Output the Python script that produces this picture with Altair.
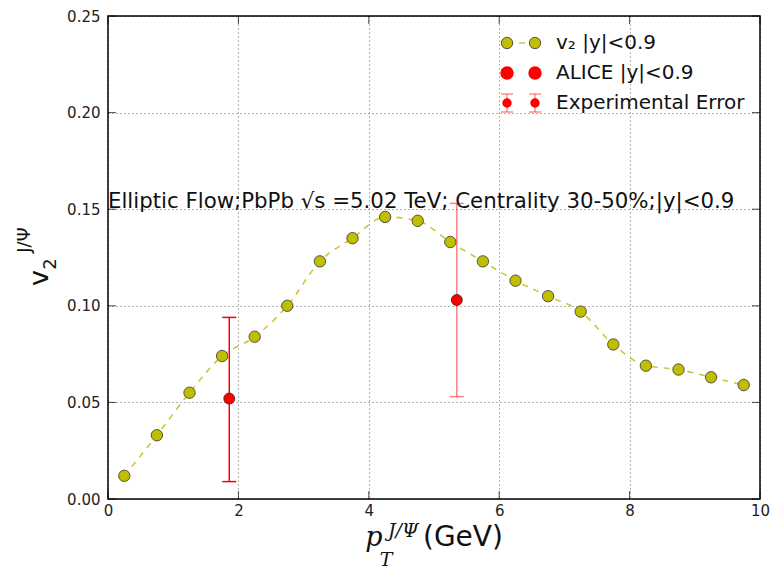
import altair as alt
import pandas as pd

# ---- data ----
pt = [0.25, 0.75, 1.25, 1.75, 2.25, 2.75, 3.25, 3.75, 4.25, 4.75,
      5.25, 5.75, 6.25, 6.75, 7.25, 7.75, 8.25, 8.75, 9.25, 9.75]
v2 = [0.012, 0.033, 0.055, 0.074, 0.084, 0.100, 0.123, 0.135, 0.146, 0.144,
      0.133, 0.123, 0.113, 0.105, 0.097, 0.080, 0.069, 0.067, 0.063, 0.059]
alice_pt = [1.86, 5.35]
alice_v2 = [0.052, 0.103]
alice_lo = [0.009, 0.053]
alice_hi = [0.094, 0.153]
x_ticks = [0, 2, 4, 6, 8, 10]
y_ticks = [0.00, 0.05, 0.10, 0.15, 0.20, 0.25]
legend_labels = ["v\u2082  |y|<0.9", "ALICE |y|<0.9", "Experimental Error"]
annotation = "Elliptic Flow;PbPb \u221as =5.02 TeV; Centrality 30-50%;|y|<0.9"

model = pd.DataFrame({"pt": pt, "v2": v2})
alice = pd.DataFrame({"pt": alice_pt, "v2": alice_v2, "lo": alice_lo, "hi": alice_hi})
note = pd.DataFrame({"pt": [0.0], "v2": [0.15], "label": [annotation]})
xt = pd.DataFrame({"pt": x_ticks})
yt = pd.DataFrame({"v2": y_ticks})
one = pd.DataFrame({"k": [0]})

FONT = "DejaVu Sans"
YEL = "#bfbf00"
xs = alt.Scale(domain=[0, 10], nice=False, zero=False)
ys = alt.Scale(domain=[0, 0.25], nice=False, zero=False)

x_axis = alt.Axis(values=x_ticks, format="d", title=None, grid=True, ticks=False,
                  labelPadding=4, labelFontSize=15, labelFont=FONT, labelColor="#222",
                  domain=False, gridColor="#000", gridDash=[1, 3], gridOpacity=0.6,
                  labelFlush=False)
y_axis = alt.Axis(values=y_ticks, format=".2f", title=None, grid=True, ticks=False,
                  labelPadding=8, labelFontSize=15, labelFont=FONT, labelColor="#222",
                  domain=False, gridColor="#000", gridDash=[1, 3], gridOpacity=0.6,
                  labelFlush=False)

def X(f):
    return alt.X(f, scale=xs, axis=x_axis)

def Y(f):
    return alt.Y(f, scale=ys, axis=y_axis)

line = alt.Chart(model).mark_line(
    color="#c8c83a", strokeWidth=1.6, strokeDash=[6, 6], interpolate="monotone"
).encode(x=X("pt:Q"), y=Y("v2:Q"))

pts = alt.Chart(model).mark_point(
    filled=True, fill=YEL, stroke="#333", strokeWidth=0.8, size=130, opacity=1
).encode(x=X("pt:Q"), y=Y("v2:Q"))

err_op = alt.condition("datum.pt > 4", alt.value(0.5), alt.value(1.0))
err = alt.Chart(alice).mark_rule(color="#ff0000", strokeWidth=1.5).encode(
    x=X("pt:Q"), y=Y("lo:Q"), y2="hi:Q", opacity=err_op)
cap_lo = alt.Chart(alice).mark_tick(color="#ff0000", orient="horizontal", size=14, thickness=1.5).encode(
    x=X("pt:Q"), y=Y("lo:Q"), opacity=err_op)
cap_hi = alt.Chart(alice).mark_tick(color="#ff0000", orient="horizontal", size=14, thickness=1.5).encode(
    x=X("pt:Q"), y=Y("hi:Q"), opacity=err_op)
alice_pts = alt.Chart(alice).mark_point(
    filled=True, fill="#ff0000", stroke="#222", strokeWidth=0.8, size=120, opacity=1
).encode(x=X("pt:Q"), y=Y("v2:Q"))

note_txt = alt.Chart(note).mark_text(
    align="left", baseline="alphabetic", fontSize=21.3, font=FONT, color="#111", dy=-1
).encode(x=X("pt:Q"), y=Y("v2:Q"), text="label:N")

# inward ticks on all four sides (matplotlib classic look)
tk = dict(color="#000", size=8, thickness=1)
ticks = [
    alt.Chart(xt).mark_tick(orient="vertical", yOffset=-4, **tk).encode(x=X("pt:Q"), y=alt.value(483)),
    alt.Chart(xt).mark_tick(orient="vertical", yOffset=4, **tk).encode(x=X("pt:Q"), y=alt.value(0)),
    alt.Chart(yt).mark_tick(orient="horizontal", xOffset=4, **tk).encode(y=Y("v2:Q"), x=alt.value(0)),
    alt.Chart(yt).mark_tick(orient="horizontal", xOffset=-4, **tk).encode(y=Y("v2:Q"), x=alt.value(652)),
]

# ---- hand-built legend (pixel positions inside the plot area) ----
lx1, lx2, ltx = 399, 427, 448
ly = [27, 57, 87]

def lg_text(label, y):
    return alt.Chart(one).mark_text(align="left", baseline="middle", fontSize=20,
                                    font=FONT, color="#111").encode(
        x=alt.value(ltx), y=alt.value(y), text=alt.value(label))

leg = []
leg.append(alt.Chart(one).mark_rule(color="#c8c83a", strokeWidth=1.6, strokeDash=[6, 6]).encode(
    x=alt.value(lx1), x2=alt.value(lx2), y=alt.value(ly[0])))
for xx in (lx1, lx2):
    leg.append(alt.Chart(one).mark_point(filled=True, fill=YEL, stroke="#333", strokeWidth=0.8,
                                         size=130, opacity=1).encode(
        x=alt.value(xx), y=alt.value(ly[0])))
    leg.append(alt.Chart(one).mark_point(filled=True, fill="#ff0000", stroke="#ff0000",
                                         size=130, opacity=1).encode(
        x=alt.value(xx), y=alt.value(ly[1])))
    leg.append(alt.Chart(one).mark_rule(color="#ff0000", strokeWidth=1.2, opacity=0.55).encode(
        x=alt.value(xx), y=alt.value(ly[2] - 9), y2=alt.value(ly[2] + 9)))
    leg.append(alt.Chart(one).mark_rule(color="#ff0000", strokeWidth=1.2, opacity=0.55).encode(
        x=alt.value(xx - 6), x2=alt.value(xx + 6), y=alt.value(ly[2] - 9)))
    leg.append(alt.Chart(one).mark_rule(color="#ff0000", strokeWidth=1.2, opacity=0.55).encode(
        x=alt.value(xx - 6), x2=alt.value(xx + 6), y=alt.value(ly[2] + 9)))
    leg.append(alt.Chart(one).mark_point(filled=True, fill="#ff0000", stroke="#ff0000",
                                         size=55, opacity=1).encode(
        x=alt.value(xx), y=alt.value(ly[2])))
for lab, y in zip(legend_labels, ly):
    leg.append(lg_text(lab, y))

# ---- axis titles composed from pieces (math-like) ----
def txt(s, x, y, size, angle=0, font=FONT, style="normal", align="center", baseline="middle"):
    kw = dict(align=align, baseline=baseline, fontSize=size, font=font, color="#111",
              fontStyle=style)
    if angle:
        kw["angle"] = angle
    return alt.Chart(one).mark_text(**kw).encode(x=alt.value(x), y=alt.value(y), text=alt.value(s))

titles = [
    txt("v", -68, 262, 27, angle=270),
    txt("2", -57, 248, 18, angle=270),
    txt("J/\u03a8", -83, 224, 18, angle=270),
    txt("p", 266, 530, 27, font="DejaVu Serif", style="italic", baseline="alphabetic"),
    txt("T", 278, 550, 19, font="DejaVu Serif", style="italic", baseline="alphabetic"),
    txt("J/\u03a8", 280, 521, 19, font="DejaVu Serif", style="italic", align="left",
        baseline="alphabetic"),
    txt("(GeV)", 315, 530, 28, align="left", baseline="alphabetic"),
]

chart = alt.layer(line, pts, err, cap_lo, cap_hi, alice_pts, note_txt, *ticks, *leg, *titles).properties(
    width=652, height=483,
    autosize=alt.AutoSizeParams(type="none"),
    padding={"left": 108, "top": 16, "right": 12, "bottom": 70},
    background="white",
).configure_view(stroke="#000", strokeWidth=1.5)

chart.save("out.html", embed_options={"renderer": "svg", "actions": False})
